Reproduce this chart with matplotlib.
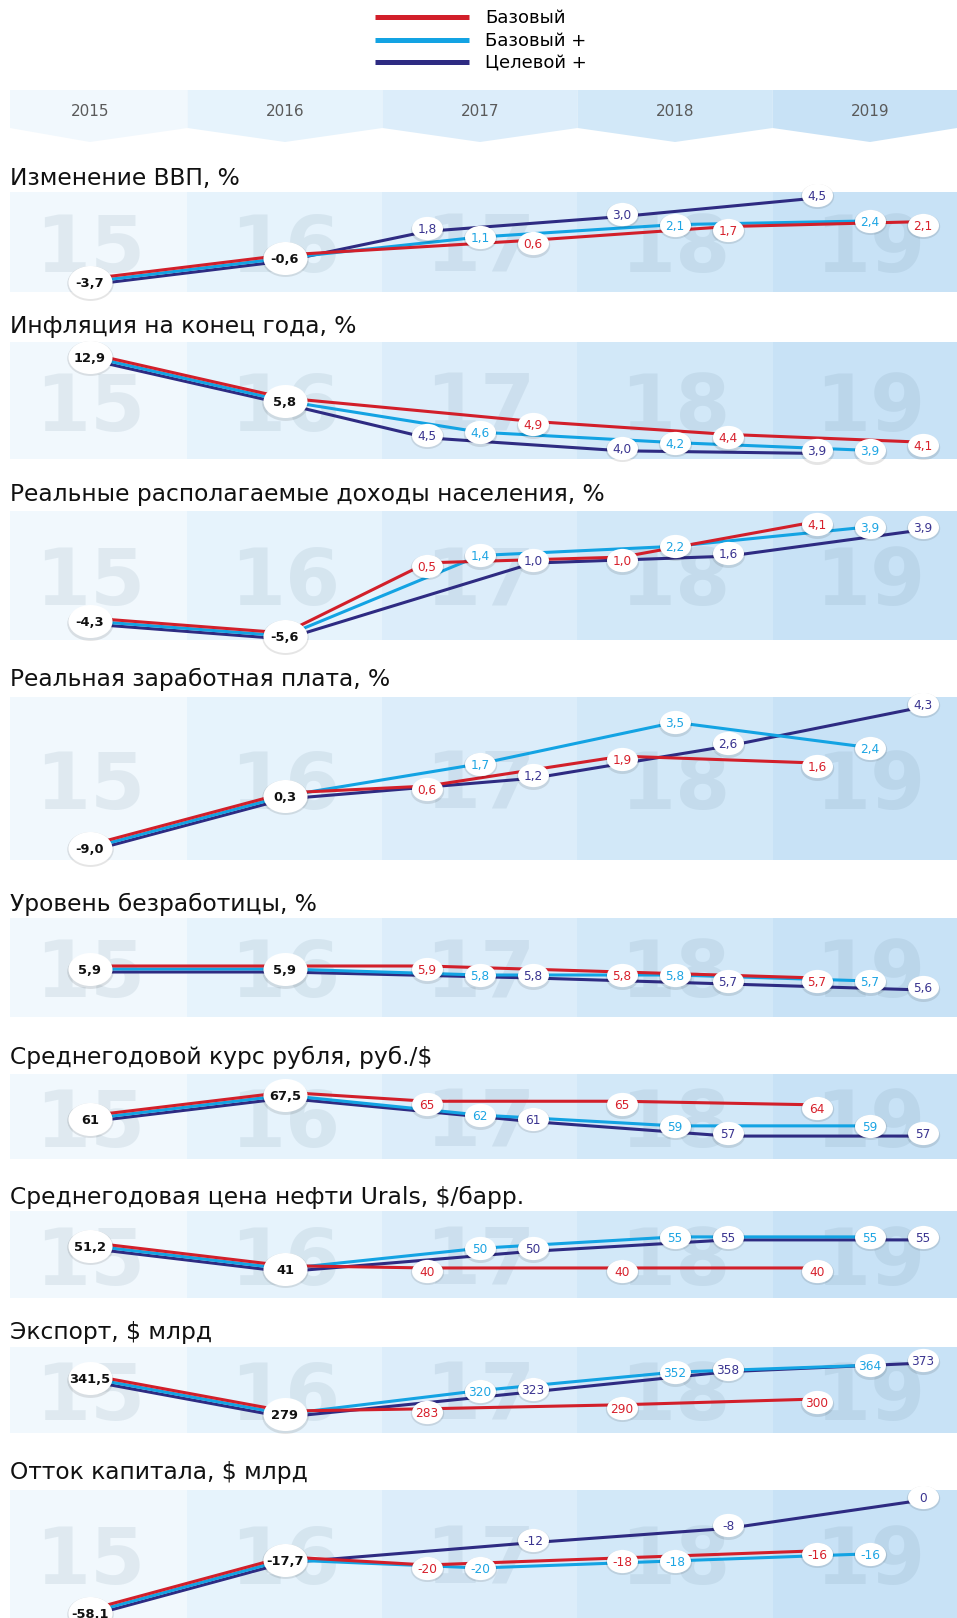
import numpy as np
import matplotlib
matplotlib.use('Agg')
import matplotlib.pyplot as plt
from matplotlib.path import Path
from matplotlib.lines import Line2D
from matplotlib.transforms import Affine2D, offset_copy, blended_transform_factory

# ---- data ----
years = [2015, 2016, 2017, 2018, 2019]
scenario_names = ['Базовый', 'Базовый +', 'Целевой +']

titles = [
    'Изменение ВВП, %',
    'Инфляция на конец года, %',
    'Реальные располагаемые доходы населения, %',
    'Реальная заработная плата, %',
    'Уровень безработицы, %',
    'Среднегодовой курс рубля, руб./$',
    'Среднегодовая цена нефти Urals, $/барр.',
    'Экспорт, $ млрд',
    'Отток капитала, $ млрд',
]

base = [
    [-3.7, -0.6, 0.6, 1.7, 2.1],
    [12.9, 5.8, 4.9, 4.4, 4.1],
    [-4.3, -5.6, 0.5, 1.0, 4.1],
    [-9.0, 0.3, 0.6, 1.9, 1.6],
    [5.9, 5.9, 5.9, 5.8, 5.7],
    [61, 67.5, 65, 65, 64],
    [51.2, 41, 40, 40, 40],
    [341.5, 279, 283, 290, 300],
    [-58.1, -17.7, -20, -18, -16],
]
base_plus = [
    [-3.7, -0.6, 1.1, 2.1, 2.4],
    [12.9, 5.8, 4.6, 4.2, 3.9],
    [-4.3, -5.6, 1.4, 2.2, 3.9],
    [-9.0, 0.3, 1.7, 3.5, 2.4],
    [5.9, 5.9, 5.8, 5.8, 5.7],
    [61, 67.5, 62, 59, 59],
    [51.2, 41, 50, 55, 55],
    [341.5, 279, 320, 352, 364],
    [-58.1, -17.7, -20, -18, -16],
]
target_plus = [
    [-3.7, -0.6, 1.8, 3.0, 4.5],
    [12.9, 5.8, 4.5, 4.0, 3.9],
    [-4.3, -5.6, 1.0, 1.6, 3.9],
    [-9.0, 0.3, 1.2, 2.6, 4.3],
    [5.9, 5.9, 5.8, 5.7, 5.6],
    [61, 67.5, 61, 57, 57],
    [51.2, 41, 50, 55, 55],
    [341.5, 279, 323, 358, 373],
    [-58.1, -17.7, -12, -8, 0],
]
n_history = 2  # 2015-2016 are facts, shared by all scenarios
one_decimal = [True, True, True, True, True, False, False, False, False]
# True: "Целевой +" is the left point inside a forecast year
target_left = [True, True, False, False, False, False, False, False, False]

# ---- layout (pixels) ----
W, H = 957, 1618
panel_px = [  # title y, band top, band bottom
    (178, 192, 292), (327, 342, 459), (495, 511, 640), (679, 697, 860),
    (904, 918, 1017), (1057, 1074, 1159), (1197, 1211, 1298),
    (1332, 1347, 1433), (1473, 1490, 1618),
]
# piecewise linear y scale: knot, factor below, factor above, ylim
scales = [
    (-0.6, 0.62, 1.0, (-5.04, 4.74)),
    (5.8, 1.0, 0.24, (3.57, 15.26)),
    (0.0, 1.0, 1.0, (-5.95, 5.27)),
    (0.3, 0.243, 1.0, (-11.15, 4.60)),
    (0.0, 1.0, 1.0, (5.1, 6.75)),
    (0.0, 1.0, 1.0, (49.8, 73.4)),
    (0.0, 1.0, 1.0, (28.1, 66.4)),
    (0.0, 1.0, 1.0, (246.1, 395.7)),
    (-20.0, 0.33, 1.0, (-62.7, 1.97)),
]
xlim = (2014.59, 2019.446)
sub_dx = 0.272
col_colors = ['#f1f8fd', '#e6f3fc', '#dcedfa', '#d2e8f8', '#c8e2f6']
line_colors = ['#d21f2a', '#13a3e3', '#2e2b82']
text_colors = ['#d7202b', '#1ea5e3', '#3a3490']
line_dy = [3.0, 0.0, -3.0]

ellipse = Affine2D().scale(1.0, 0.75).transform_path(Path.unit_circle())


def make_scale(knot, lo, hi):
    def fwd(v):
        v = np.asarray(v, dtype=float)
        return np.where(v > knot, knot + (v - knot) * hi, knot + (v - knot) * lo)

    def inv(t):
        t = np.asarray(t, dtype=float)
        return np.where(t > knot, knot + (t - knot) / hi, knot + (t - knot) / lo)
    return fwd, inv


def fmt(v, dec):
    s = f'{v:.1f}' if dec else f'{v:g}'
    return s.replace('.', ',')


fig = plt.figure(figsize=(W / 100, H / 100), dpi=100)

# legend
handles = [Line2D([], [], color=c, lw=3.6, solid_capstyle='butt') for c in line_colors]
fig.legend(handles, scenario_names, loc='upper left',
           bbox_to_anchor=(375 / W, 1 - 9 / H), frameon=False, fontsize=13,
           handlelength=5.2, handletextpad=0.9, labelspacing=0.27,
           borderpad=0, borderaxespad=0)

# header with chevrons
hax = fig.add_axes([10 / W, 1 - 142 / H, 947 / W, 52 / H])
hax.set_xlim(*xlim)
hax.set_ylim(0, 52)
hax.set_axis_off()
for j, yr in enumerate(years):
    x0 = max(yr - 0.5, xlim[0])
    x1 = min(yr + 0.5, xlim[1])
    hax.fill([x0, x1, x1, yr, x0], [52, 52, 14, 0, 14], color=col_colors[j], lw=0)
    hax.text(yr, 30, str(yr), ha='center', va='center', fontsize=11, color='#5a5a5a')

series_all = [base, base_plus, target_plus]

for i, title in enumerate(titles):
    ty, top, bot = panel_px[i]
    fig.text(10 / W, 1 - ty / H, title, ha='left', va='center', fontsize=16.8, color='#111111')

    ax = fig.add_axes([10 / W, 1 - bot / H, 947 / W, (bot - top) / H])
    knot, lo, hi, ylim = scales[i]
    ax.set_yscale('function', functions=make_scale(knot, lo, hi))
    ax.set_axis_off()
    ax.set_xlim(*xlim)
    ax.set_ylim(*ylim)

    for j, yr in enumerate(years):
        ax.axvspan(yr - 0.5, yr + 0.5, color=col_colors[j], lw=0, zorder=0)
        ax.text(yr, 0.5, str(yr)[2:], transform=blended_transform_factory(ax.transData, ax.transAxes),
                ha='center', va='center_baseline', fontsize=57, fontweight='bold',
                color='#5f8299', alpha=0.12, zorder=1)

    order = [2, 1, 0] if target_left[i] else [0, 1, 2]
    offsets = {s: (k - 1) * sub_dx for k, s in enumerate(order)}

    for s in (2, 1, 0):
        vals = series_all[s][i]
        xs = [yr if k < n_history else yr + offsets[s] for k, yr in enumerate(years)]
        tr = offset_copy(ax.transData, fig=fig, x=0, y=line_dy[s], units='dots')
        ax.plot(xs, vals, color=line_colors[s], lw=2.2, transform=tr, zorder=3,
                solid_capstyle='round')
        for k in range(n_history, len(years)):
            x, v = xs[k], vals[k]
            sh = offset_copy(ax.transData, fig=fig, x=0, y=-1.5, units='dots')
            ax.plot([x], [v], marker=ellipse, ms=24, mfc='#000000', mec='none', alpha=0.10,
                    transform=sh, clip_on=False, zorder=4)
            ax.plot([x], [v], marker=ellipse, ms=22.3, mfc='white', mec='none',
                    clip_on=False, zorder=5)
            ax.text(x, v, fmt(v, one_decimal[i]), ha='center', va='center_baseline',
                    fontsize=8.7, color=text_colors[s], zorder=6, clip_on=False)

    for k in range(n_history):
        x, v = years[k], base[i][k]
        sh = offset_copy(ax.transData, fig=fig, x=0, y=-1.5, units='dots')
        ax.plot([x], [v], marker=ellipse, ms=33.5, mfc='#000000', mec='none', alpha=0.10,
                transform=sh, clip_on=False, zorder=4)
        ax.plot([x], [v], marker=ellipse, ms=31.7, mfc='white', mec='none',
                clip_on=False, zorder=5)
        ax.text(x, v, fmt(v, one_decimal[i]), ha='center', va='center_baseline',
                fontsize=9.4, fontweight='bold', color='#111111', zorder=6, clip_on=False)

    ax.set_xlim(*xlim)
    ax.set_ylim(*ylim)

fig.savefig('out.png', dpi=100)
